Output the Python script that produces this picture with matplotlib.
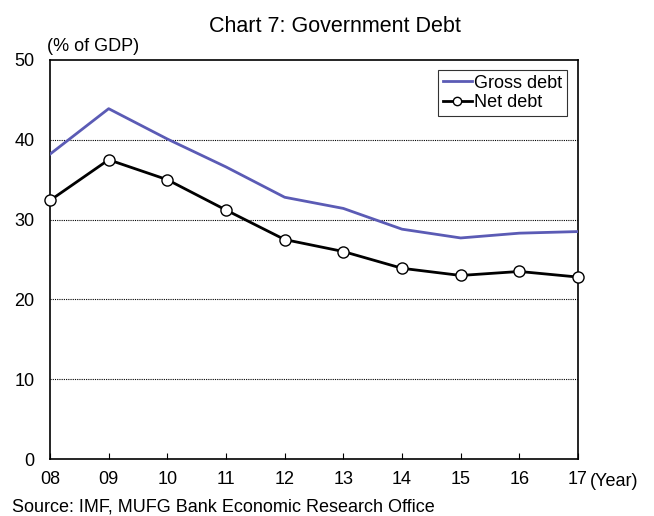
import matplotlib
matplotlib.use("Agg")
import matplotlib.pyplot as plt

plt.rcParams['font.family'] = ['Liberation Sans', 'DejaVu Sans']

years = ["08", "09", "10", "11", "12", "13", "14", "15", "16", "17"]
gross_debt = [38.2, 43.9, 40.1, 36.6, 32.8, 31.4, 28.8, 27.7, 28.3, 28.5]
net_debt = [32.4, 37.5, 35.0, 31.2, 27.5, 26.0, 23.9, 23.0, 23.5, 22.8]
yticks = [0, 10, 20, 30, 40, 50]

W, H = 654, 516
fig = plt.figure(figsize=(W/100, H/100), dpi=100)
ax = fig.add_axes([50/W, 57/H, 528/W, 399/H])

x = list(range(len(years)))
ax.plot(x, gross_debt, color="#5b5bb5", lw=2, label="Gross debt", zorder=3)
ax.plot(x, net_debt, color="black", lw=2, marker="o", markersize=8,
        markerfacecolor="white", markeredgecolor="black", markeredgewidth=1,
        label="Net debt", zorder=4, clip_on=False)

ax.set_xlim(0, len(years) - 1)
ax.set_ylim(0, 50)
ax.set_yticks(yticks)
ax.set_yticklabels([str(v) for v in yticks], fontsize=13)
ax.set_xticks(x)
ax.set_xticklabels(years, fontsize=13)
ax.tick_params(axis='x', direction='in', length=4, pad=9)
ax.tick_params(axis='y', length=0, pad=11)
for v in yticks[1:-1]:
    ax.axhline(v, color="black", lw=0.8, ls=(0, (1, 1)), zorder=1)
for s in ax.spines.values():
    s.set_linewidth(1.2)

ax.text(590/W, 1 - 481/H, "(Year)", transform=fig.transFigure, fontsize=13,
        ha="left", va="center")
ax.text(47/W, 1 - 47/H, "(% of GDP)", transform=fig.transFigure, fontsize=13,
        ha="left", va="center")
fig.text(335/W, 1 - 27/H, "Chart 7: Government Debt", fontsize=15.5, ha="center", va="center")
fig.text(12/W, 1 - 507/H, "Source: IMF, MUFG Bank Economic Research Office",
         fontsize=13, ha="left", va="center")

leg = ax.legend(loc="upper right", bbox_to_anchor=(517/528, 1 - 10/399), fontsize=13,
                frameon=True, fancybox=False, edgecolor="black",
                handlelength=1.6, handletextpad=0.15, borderpad=0.25,
                labelspacing=0.15, borderaxespad=0)
leg.get_frame().set_linewidth(0.8)
for h in leg.legend_handles:
    try:
        h.set_markersize(6)
    except Exception:
        pass

fig.savefig("out.png", dpi=100)
